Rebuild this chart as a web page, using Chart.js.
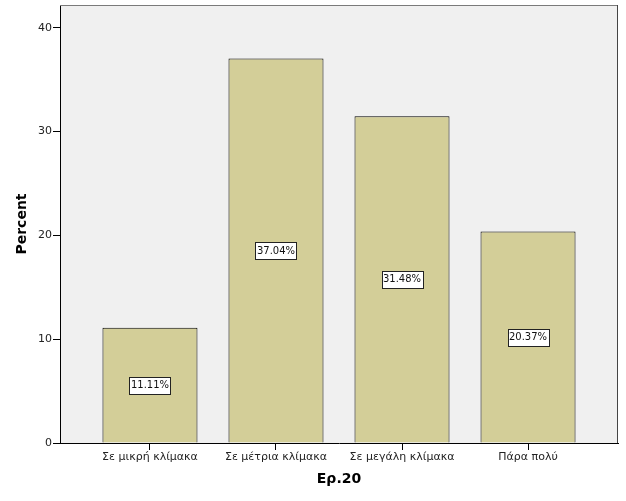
<!DOCTYPE html>
<html><head><meta charset="utf-8">
<script src="https://cdn.jsdelivr.net/npm/chart.js@4"></script>
<style>html,body{margin:0;padding:0;background:#fff}#wrap{width:626px;height:501px}</style>
</head><body><div id="wrap"><canvas id="c" width="626" height="501"></canvas></div>
<script>
const categories = ["Σε μικρή κλίμακα", "Σε μέτρια κλίμακα", "Σε μεγάλη κλίμακα", "Πάρα πολύ"];
const percents = [11.11, 37.04, 31.48, 20.37];
const yTicks = [0, 10, 20, 30, 40];
const xTitle = "Ερ.20";
const yTitle = "Percent";

const FONT = "'DejaVu Sans', sans-serif";

const bgPlugin = {
  id: 'bg',
  beforeDraw(chart) {
    const {ctx, chartArea: a} = chart;
    ctx.save();
    ctx.fillStyle = '#F0F0F0';
    ctx.fillRect(a.left, a.top, a.right - a.left, a.bottom - a.top);
    ctx.restore();
  },
  afterDraw(chart) {
    const {ctx, chartArea: a} = chart;
    ctx.save();
    ctx.lineWidth = 1;
    ctx.strokeStyle = '#7a7a7a';
    ctx.beginPath();
    ctx.moveTo(a.left, Math.round(a.top) + 0.5); ctx.lineTo(a.right, Math.round(a.top) + 0.5);
    ctx.stroke();
    ctx.strokeStyle = '#444';
    ctx.beginPath();
    ctx.moveTo(Math.round(a.right) - 0.5, a.top); ctx.lineTo(Math.round(a.right) - 0.5, a.bottom);
    ctx.stroke();
    ctx.restore();
  }
};

const labelPlugin = {
  id: 'barLabels',
  afterDatasetsDraw(chart) {
    const {ctx} = chart;
    const meta = chart.getDatasetMeta(0);
    ctx.save();
    ctx.font = "10px " + FONT;
    ctx.textAlign = 'center';
    ctx.textBaseline = 'middle';
    meta.data.forEach((bar, i) => {
      const txt = percents[i].toFixed(2) + '%';
      const cy = (bar.y + bar.base) / 2;
      const w = Math.round(ctx.measureText(txt).width + 3);
      const h = 17;
      const x0 = Math.round(bar.x - w / 2) + 0.5, y0 = Math.round(cy - h / 2) + 0.5;
      ctx.fillStyle = '#fff';
      ctx.fillRect(x0, y0, w, h);
      ctx.strokeStyle = '#222';
      ctx.lineWidth = 1;
      ctx.strokeRect(x0, y0, w, h);
      ctx.fillStyle = '#111';
      ctx.fillText(txt, bar.x, cy + 0.5);
    });
    ctx.restore();
  }
};

new Chart(document.getElementById('c'), {
  type: 'bar',
  data: {
    datasets: [{
      data: percents.map((v, i) => ({x: i, y: v})),
      backgroundColor: '#D3CE98',
      borderColor: '#000',
      borderWidth: 1,
      inflateAmount: 0,
      barPercentage: 0.754,
      categoryPercentage: 1
    }]
  },
  options: {
    responsive: false,
    animation: false,
    devicePixelRatio: 1,
    layout: {padding: {top: 5, right: 8, left: 0, bottom: 0}},
    plugins: {legend: {display: false}, tooltip: {enabled: false}},
    scales: {
      x: {
        type: 'linear',
        offset: false,
        min: -0.714,
        max: 3.714,
        afterBuildTicks(s) { s.ticks = categories.map((c, i) => ({value: i})); },
        afterFit(s) { s.height = 58; s.paddingLeft = 0; s.paddingRight = 0; },
        ticks: {
          callback: (v) => categories[v] ?? '',
          font: {family: FONT, size: 11},
          color: '#222',
          padding: 1,
          maxRotation: 0,
          autoSkip: false
        },
        grid: {offset: false, drawOnChartArea: false, tickLength: 7, color: '#000', tickColor: '#000'},
        border: {color: '#000', width: 1},
        title: {display: true, text: xTitle, font: {family: FONT, size: 14, weight: 'bold'}, color: '#000', padding: {top: 0, bottom: 13}}
      },
      y: {
        min: 0,
        max: 42.2,
        afterBuildTicks(s) { s.ticks = yTicks.map(v => ({value: v})); },
        afterFit(s) { s.width = 60; s.paddingTop = 0; s.paddingBottom = 0; },
        ticks: {font: {family: FONT, size: 11}, color: '#222', padding: 1},
        grid: {drawOnChartArea: false, tickLength: 7, color: '#000', tickColor: '#000'},
        border: {color: '#000', width: 1},
        title: {display: true, text: yTitle, font: {family: FONT, size: 14, weight: 'bold'}, color: '#000', padding: {top: 14, bottom: 0}}
      }
    }
  },
  plugins: [bgPlugin, labelPlugin]
});
</script></body></html>
